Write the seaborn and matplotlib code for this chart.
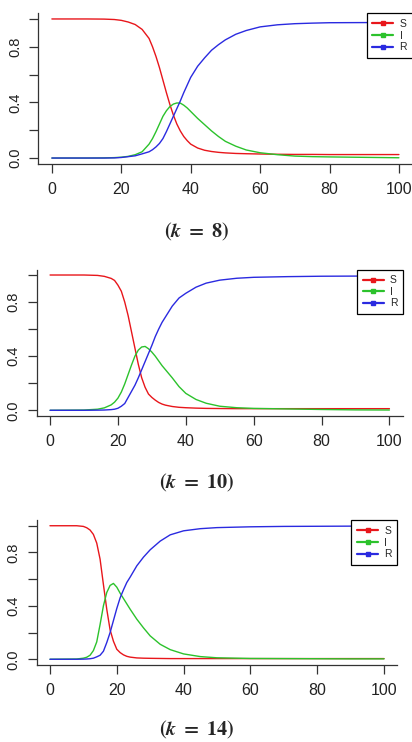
import pandas as pd
import matplotlib
matplotlib.use("Agg")
import matplotlib.pyplot as plt
from matplotlib.lines import Line2D
import seaborn as sns

# --- data read off the three SIR runs ---
# k = 8
t_k8 = [0, 10, 15, 18, 20, 22, 24, 26, 28, 29, 30, 31, 32, 33, 34, 35, 36, 37, 38, 39,
        40, 42, 44, 46, 48, 50, 53, 56, 60, 65, 70, 75, 80, 90, 100]
s_k8 = [1.0, 1.0, 0.999, 0.996, 0.99, 0.978, 0.96, 0.925, 0.86, 0.80, 0.73, 0.65, 0.56, 0.47,
        0.385, 0.31, 0.245, 0.195, 0.155, 0.125, 0.10, 0.072, 0.056, 0.047, 0.041, 0.037,
        0.033, 0.031, 0.029, 0.027, 0.026, 0.026, 0.025, 0.025, 0.025]
i_k8 = [0.0, 0.0, 0.001, 0.003, 0.006, 0.012, 0.024, 0.045, 0.10, 0.14, 0.19, 0.245, 0.30,
        0.34, 0.37, 0.388, 0.396, 0.395, 0.38, 0.36, 0.335, 0.285, 0.24, 0.195, 0.155, 0.12,
        0.085, 0.058, 0.038, 0.024, 0.014, 0.010, 0.008, 0.005, 0.002]
r_k8 = [0.0, 0.0, 0.0, 0.001, 0.004, 0.010, 0.016, 0.030, 0.045, 0.060, 0.080, 0.105, 0.14,
        0.19, 0.245, 0.30, 0.355, 0.41, 0.47, 0.525, 0.58, 0.66, 0.72, 0.775, 0.815, 0.85,
        0.89, 0.917, 0.943, 0.958, 0.966, 0.970, 0.973, 0.974, 0.975]

# k = 10
t_k10 = [0, 10, 14, 16, 18, 19, 20, 21, 22, 23, 24, 25, 26, 27, 28, 29, 30, 31, 32, 33, 34,
         36, 38, 40, 43, 46, 50, 55, 60, 70, 80, 90, 100]
s_k10 = [1.0, 1.0, 0.997, 0.99, 0.975, 0.96, 0.925, 0.88, 0.80, 0.70, 0.58, 0.46, 0.34,
         0.24, 0.17, 0.12, 0.095, 0.075, 0.058, 0.046, 0.038, 0.028, 0.022, 0.019, 0.016,
         0.014, 0.013, 0.012, 0.012, 0.012, 0.012, 0.012, 0.012]
i_k10 = [0.0, 0.002, 0.008, 0.018, 0.04, 0.06, 0.09, 0.135, 0.195, 0.265, 0.335, 0.40,
         0.445, 0.468, 0.472, 0.455, 0.43, 0.40, 0.365, 0.33, 0.30, 0.24, 0.175, 0.125, 0.08,
         0.052, 0.03, 0.019, 0.014, 0.010, 0.006, 0.003, 0.002]
r_k10 = [0.0, 0.0, 0.001, 0.002, 0.005, 0.008, 0.015, 0.03, 0.05, 0.095, 0.14, 0.185, 0.24,
         0.30, 0.36, 0.42, 0.48, 0.545, 0.60, 0.65, 0.69, 0.77, 0.83, 0.865, 0.91, 0.94,
         0.962, 0.976, 0.983, 0.988, 0.991, 0.992, 0.993]

# k = 14
t_k14 = [0, 8, 10, 11, 12, 13, 14, 15, 16, 17, 18, 19, 20, 21, 22, 23, 24, 26, 28, 30, 33,
         36, 40, 45, 50, 60, 70, 80, 90, 100]
s_k14 = [1.0, 1.0, 0.995, 0.985, 0.968, 0.935, 0.87, 0.75, 0.56, 0.375, 0.22, 0.135, 0.075,
         0.05, 0.033, 0.022, 0.016, 0.010, 0.008, 0.007, 0.006, 0.005, 0.005, 0.005, 0.005,
         0.005, 0.005, 0.005, 0.005, 0.005]
i_k14 = [0.0, 0.002, 0.008, 0.015, 0.03, 0.065, 0.13, 0.26, 0.40, 0.50, 0.553, 0.568, 0.54,
         0.495, 0.455, 0.415, 0.375, 0.30, 0.235, 0.175, 0.112, 0.072, 0.04, 0.02, 0.011,
         0.006, 0.005, 0.004, 0.003, 0.003]
r_k14 = [0.0, 0.0, 0.001, 0.002, 0.004, 0.008, 0.018, 0.03, 0.06, 0.125, 0.20, 0.29, 0.38,
         0.46, 0.52, 0.575, 0.615, 0.70, 0.765, 0.82, 0.885, 0.932, 0.962, 0.978, 0.986,
         0.992, 0.995, 0.996, 0.997, 0.997]

runs = [("8", t_k8, s_k8, i_k8, r_k8),
        ("10", t_k10, s_k10, i_k10, r_k10),
        ("14", t_k14, s_k14, i_k14, r_k14)]

compartments = ["S", "I", "R"]
x_ticks = [0, 20, 40, 60, 80, 100]
y_ticks = [0.0, 0.2, 0.4, 0.6, 0.8, 1.0]
y_tick_labels = ["0.0", "", "0.4", "", "0.8", ""]

# --- style ---
palette = {"S": "#e8161b", "I": "#2cc22c", "R": "#2a2ae0"}
W, H = 412, 742
# plot region in pixels: left, right, top, bottom
boxes = [(38.0, 412.8, 13.4, 163.6),
         (36.5, 403.0, 269.6, 415.7),
         (36.6, 397.4, 520.4, 664.6)]
caption_y = [232, 483, 730]
caption_x = 197

sns.set_theme(style="white")
plt.rcParams["font.family"] = ["Liberation Sans", "DejaVu Sans"]
plt.rcParams["mathtext.fontset"] = "stix"

fig = plt.figure(figsize=(W / 100, H / 100), dpi=100)
fig.patch.set_facecolor("white")

for (k, t, s, i, r), (l, rt, tp, bt), cy in zip(runs, boxes, caption_y):
    ax = fig.add_axes([l / W, (H - bt) / H, (rt - l) / W, (bt - tp) / H])
    df = pd.DataFrame({"t": t, "S": s, "I": i, "R": r}).melt(
        id_vars="t", var_name="comp", value_name="value")
    sns.lineplot(data=df, x="t", y="value", hue="comp", hue_order=compartments,
                 palette=palette, linewidth=1.0, ax=ax, legend=False)

    ax.set_xlim(-4, 104)
    ax.set_ylim(-0.04, 1.04)
    ax.set_xticks(x_ticks)
    ax.set_xticklabels([str(v) for v in x_ticks])
    ax.set_yticks(y_ticks)
    ax.set_yticklabels(y_tick_labels, rotation=90, va="center")
    ax.set_xlabel("")
    ax.set_ylabel("")
    ax.set_facecolor("none")
    for side in ["top", "right"]:
        ax.spines[side].set_visible(False)
    for side in ["left", "bottom"]:
        ax.spines[side].set_color("#333333")
        ax.spines[side].set_linewidth(0.9)
    ax.tick_params(axis="both", which="both", direction="out", length=6.5, width=0.9,
                   color="#333333", labelcolor="#222222")
    ax.tick_params(axis="x", labelsize=11.5, pad=7)
    ax.tick_params(axis="y", labelsize=10.5, pad=5)
    ax.tick_params(left=True, bottom=True)

    handles = [Line2D([0], [0], color=palette[c], lw=1.6, marker="s", markersize=3.5)
               for c in compartments]
    leg = ax.legend(handles, compartments, loc="upper right", borderaxespad=0,
                    fontsize=7.5, frameon=True, fancybox=False, framealpha=1,
                    edgecolor="black", borderpad=0.55, handlelength=2.0,
                    handletextpad=0.6, labelspacing=0.15)
    leg.get_frame().set_linewidth(0.9)

    fig.text(caption_x / W, 1 - cy / H,
             r"$\mathbf{(}\boldsymbol{k}\mathbf{\ =\ " + k + r")}$",
             ha="center", va="center", fontsize=14.5)

fig.savefig("out.png", dpi=100, facecolor="white")
